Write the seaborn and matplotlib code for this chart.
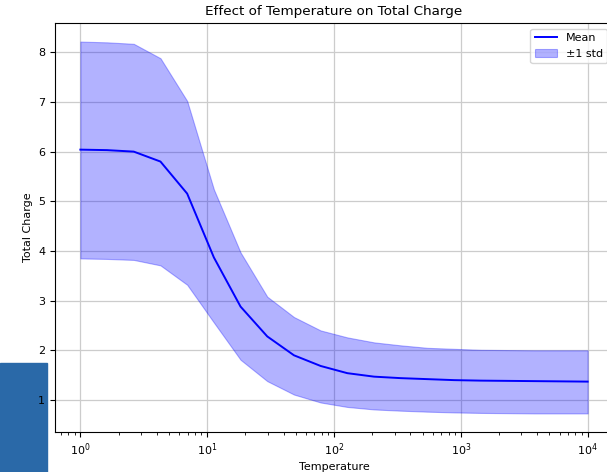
import numpy as np
import pandas as pd
import matplotlib
matplotlib.use("Agg")
import matplotlib.pyplot as plt
import seaborn as sns
from matplotlib.patches import Rectangle

temperature = [1.0, 1.624, 2.637, 4.281, 6.952, 11.29, 18.33, 29.76, 48.33, 78.48,
               127.4, 206.9, 336.0, 545.6, 885.9, 1438.0, 2336.0, 3793.0, 6158.0, 10000.0]
mean_charge = [6.04, 6.03, 6.00, 5.80, 5.155, 3.87, 2.88, 2.28, 1.90, 1.685,
               1.54, 1.47, 1.44, 1.42, 1.40, 1.39, 1.385, 1.38, 1.375, 1.37]
upper_charge = [8.215, 8.20, 8.17, 7.88, 7.02, 5.24, 3.97, 3.08, 2.67, 2.40,
                2.26, 2.16, 2.10, 2.05, 2.03, 2.01, 2.005, 2.0, 2.0, 2.0]
lower_charge = [3.85, 3.84, 3.82, 3.71, 3.32, 2.56, 1.81, 1.38, 1.11, 0.95,
                0.86, 0.81, 0.785, 0.765, 0.75, 0.74, 0.735, 0.73, 0.73, 0.73]

df = pd.DataFrame({"Temperature": temperature, "Total Charge": mean_charge})

fig = plt.figure(figsize=(6.07, 4.72), dpi=100)
ax = fig.add_axes([55/607, 40/472, (613-55)/607, (432-23)/472])

ax.fill_between(temperature, lower_charge, upper_charge, color="blue", alpha=0.3,
                label="±1 std", linewidth=0.8)
sns.lineplot(data=df, x="Temperature", y="Total Charge", color="blue", linewidth=1.4,
             label="Mean", ax=ax)
ax.set_xscale("log")
ax.grid(True, which="major", color="#cccccc", linewidth=0.9)
ax.set_axisbelow(True)
ax.set_title("Effect of Temperature on Total Charge", fontsize=9.7)
ax.set_xlabel("Temperature", fontsize=8, labelpad=3)
ax.set_ylabel("Total Charge", fontsize=8)
ax.tick_params(labelsize=8)

h, l = ax.get_legend_handles_labels()
order = [l.index("Mean"), l.index("±1 std")]
ax.legend([h[i] for i in order], [l[i] for i in order], loc="upper right", fontsize=8)

fig.patches.append(Rectangle((0, 0), 47/607, (472-363)/472, transform=fig.transFigure,
                             color="#2a69a8", zorder=-1))

fig.savefig("out.png", dpi=100)
